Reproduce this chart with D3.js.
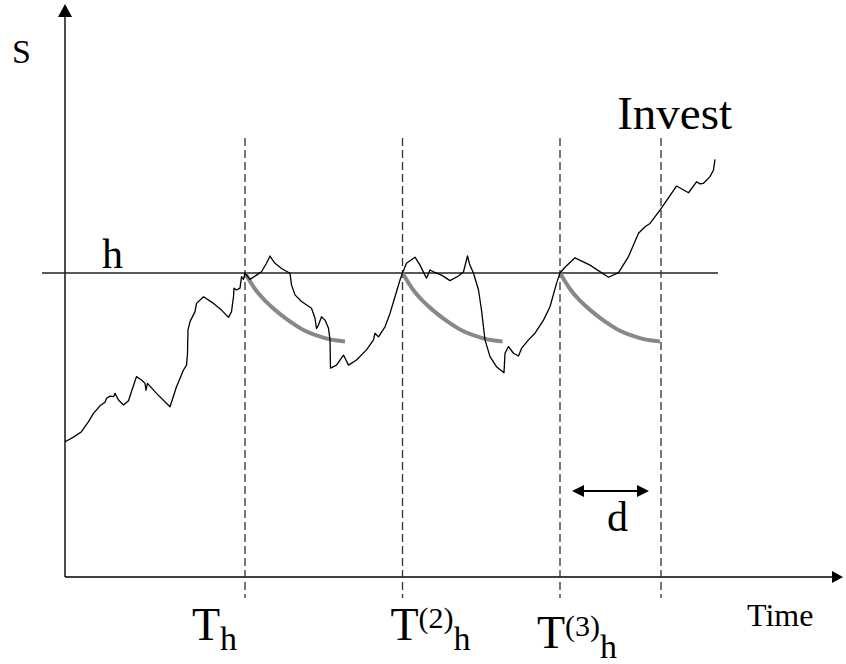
<!DOCTYPE html>
<html>
<head>
<meta charset="utf-8">
<script src="https://cdn.jsdelivr.net/npm/d3@7"></script>
<style>
  html, body { margin: 0; padding: 0; background: #fff; }
  svg { display: block; }
  text { font-family: 'Liberation Serif', 'Times New Roman', serif; fill: #000; }
</style>
</head>
<body>
<script>
// price path S(t) (t in time units, S in % of the level h)
const pricePath = [
  [0, 44.5], [1.7, 46.0], [3.3, 47.8], [4.7, 51.1], [5.7, 53.8], [7.0, 56.3], [8.0, 57.5],
  [8.3, 58.8], [9.0, 59.5], [9.7, 59.3], [10.0, 60.4], [10.7, 58.2], [11.7, 56.6], [12.7, 58.0],
  [13.3, 61.0], [14.3, 65.9], [15.3, 64.8], [16.0, 63.7], [16.2, 61.5], [16.5, 63.7], [18.3, 60.4],
  [21.0, 56.0], [22.3, 62.6], [23.7, 68.1], [24.3, 69.7], [24.5, 73.6], [24.6, 81.3], [25.0, 84.0],
  [26.0, 87.3], [26.3, 90.0], [27.7, 92.2], [29.7, 90.0], [31.3, 87.8], [32.7, 85.4], [33.3, 87.3],
  [33.7, 92.2], [33.8, 95.0], [34.3, 94.4], [35.0, 95.0], [35.3, 98.8], [35.7, 97.9], [36.0, 100],
  [37.0, 97.9], [38.3, 99.3], [39.3, 100.4], [40.3, 103.2], [41.0, 105.6], [41.3, 104.8], [42.0, 103.2],
  [43.3, 101.5], [45.0, 99.9], [45.3, 96.1], [46.0, 92.8], [47.3, 90.6], [49.3, 88.4], [50.0, 85.1],
  [50.3, 81.8], [50.7, 82.9], [51.3, 85.6], [52.0, 84.5], [52.7, 81.8], [53.0, 78.0], [53.1, 68.7],
  [54.3, 69.7], [55.7, 73.0], [56.7, 69.7], [58.3, 71.4], [60.3, 74.7], [61.7, 78.0], [62.0, 80.2],
  [62.7, 79.0], [64.0, 82.3], [65.0, 86.7], [66.0, 92.2], [67.0, 97.7], [67.5, 100],
  [68.3, 103.2], [70.0, 105.2], [71.0, 102.6], [72.3, 98.3], [73.0, 101.0], [73.7, 100.4], [75.3, 99.3],
  [77.0, 97.5], [78.7, 99.0], [79.7, 100.4], [80.5, 105.6], [80.9, 103.0], [81.7, 99.9], [82.7, 94.4],
  [83.3, 87.8], [84.0, 78.0], [85.0, 72.5], [86.3, 69.2], [87.8, 67.2], [88.0, 73.6], [88.7, 75.8],
  [89.7, 73.6], [90.7, 72.7], [91.3, 75.2], [92.7, 78.0], [94.0, 80.2], [95.7, 84.5], [97.0, 88.9],
  [98.3, 96.6], [99.0, 100],
  [100.0, 101.9], [102.0, 105.0], [105.0, 102.6], [108.7, 98.6], [110.7, 100.1], [112.7, 105.4],
  [114.7, 113.1], [116.0, 115.2], [117.0, 116.3], [119.0, 120.7], [122.3, 128.6], [124.7, 126.4],
  [126.3, 130.0], [127.0, 129.3], [127.7, 129.5], [129.0, 131.7], [129.7, 133.9], [130.0, 137.4]
];

const hLevel = 100;
const hLineSpan = [-4.6, 130.6];
const hitTimes = [36.0, 67.5, 99.0];
const investTime = 119.2;
const markerSpan = [-6.9, 144.4];
// grey curve after each hit: [dt, dS] from the hit point
const decayShape = [
  [0, 0], [2, -5.6], [4, -9.2], [6, -12.2], [8, -14.8], [10, -17.1],
  [12, -19.1], [14, -20.4], [16, -21.5], [18, -22.2], [20, -22.5]
];
const dWindow = [101.4, 116.8];
const dLevel = 28.3;
const axisEnds = { t: 155.6, s: 188.5 };
const hitSup = ['', '(2)', '(3)'];
const hitSub = ['h', 'h', 'h'];

const width = 846;
const height = 664;
const svg = d3.select('body').append('svg').attr('width', width).attr('height', height);

const x = d3.scaleLinear().domain([0, 155]).range([65, 840]);
const y = d3.scaleLinear().domain([0, 100]).range([577, 273]);

// axes with arrow heads
const x0 = x(0);
const y0 = y(0);
svg.append('line')
  .attr('x1', x0).attr('y1', y0).attr('x2', x0).attr('y2', y(axisEnds.s) + 10)
  .attr('stroke', '#000').attr('stroke-width', 1.4);
svg.append('line')
  .attr('x1', x0).attr('y1', y0).attr('x2', x(axisEnds.t) - 8).attr('y2', y0)
  .attr('stroke', '#000').attr('stroke-width', 1.4);
const yTip = y(axisEnds.s);
svg.append('path')
  .attr('d', `M${x0},${yTip}L${x0 - 7},${yTip + 13}L${x0 + 7},${yTip + 13}Z`)
  .attr('fill', '#000');
const xTip = x(axisEnds.t);
svg.append('path')
  .attr('d', `M${xTip},${y0}L${xTip - 11},${y0 - 6}L${xTip - 11},${y0 + 6}Z`)
  .attr('fill', '#000');

// level h
svg.append('line')
  .attr('x1', x(hLineSpan[0])).attr('x2', x(hLineSpan[1]))
  .attr('y1', y(hLevel)).attr('y2', y(hLevel))
  .attr('stroke', '#222').attr('stroke-width', 1.3);

// dashed verticals at the hits and at the investment time
svg.selectAll('line.mark')
  .data(hitTimes.concat([investTime]))
  .enter().append('line')
    .attr('class', 'mark')
    .attr('x1', d => x(d)).attr('x2', d => x(d))
    .attr('y1', y(markerSpan[1])).attr('y2', y(markerSpan[0]))
    .attr('stroke', '#333').attr('stroke-width', 1.3)
    .attr('stroke-dasharray', '8,4');

// grey decays
const line = d3.line().x(d => x(d[0])).y(d => y(d[1])).curve(d3.curveBasis);
svg.selectAll('path.decay')
  .data(hitTimes)
  .enter().append('path')
    .attr('class', 'decay')
    .attr('d', t => line(decayShape.map(p => [t + p[0], hLevel + p[1]])))
    .attr('fill', 'none')
    .attr('stroke', '#888')
    .attr('stroke-width', 4);

// price path
svg.append('path')
  .attr('d', d3.line().x(d => x(d[0])).y(d => y(d[1]))(pricePath))
  .attr('fill', 'none')
  .attr('stroke', '#000')
  .attr('stroke-width', 1.3)
  .attr('stroke-linejoin', 'round');

// d window arrow
const dy = y(dLevel);
svg.append('line')
  .attr('x1', x(dWindow[0]) + 8).attr('x2', x(dWindow[1]) - 8)
  .attr('y1', dy).attr('y2', dy)
  .attr('stroke', '#000').attr('stroke-width', 2);
svg.append('path')
  .attr('d', `M${x(dWindow[0])},${dy}L${x(dWindow[0]) + 12},${dy - 6}L${x(dWindow[0]) + 12},${dy + 6}Z`)
  .attr('fill', '#000');
svg.append('path')
  .attr('d', `M${x(dWindow[1])},${dy}L${x(dWindow[1]) - 12},${dy - 6}L${x(dWindow[1]) - 12},${dy + 6}Z`)
  .attr('fill', '#000');

// texts
svg.append('text').attr('x', 12).attr('y', 63).attr('font-size', 34).text('S');
svg.append('text').attr('x', 102).attr('y', 268).attr('font-size', 42).text('h');
svg.append('text').attr('x', 732).attr('y', 129).attr('font-size', 47)
  .attr('text-anchor', 'end').text('Invest');
svg.append('text').attr('x', 607).attr('y', 531).attr('font-size', 42).text('d');
svg.append('text').attr('x', 747).attr('y', 626).attr('font-size', 32).text('Time');

// hit time labels
const labelShift = [-53, -12, -23];
const labelBase = [640, 640, 648];
hitTimes.forEach((t, i) => {
  const lbl = svg.append('text')
    .attr('x', x(t) + labelShift[i])
    .attr('y', labelBase[i])
    .attr('font-size', 46);
  lbl.append('tspan').text('T');
  if (hitSup[i]) {
    lbl.append('tspan').attr('font-size', 30).attr('dy', -12).text(hitSup[i]);
    lbl.append('tspan').attr('font-size', 34).attr('dy', 22).text(hitSub[i]);
  } else {
    lbl.append('tspan').attr('font-size', 34).attr('dy', 10).text(hitSub[i]);
  }
});
</script>
</body>
</html>
